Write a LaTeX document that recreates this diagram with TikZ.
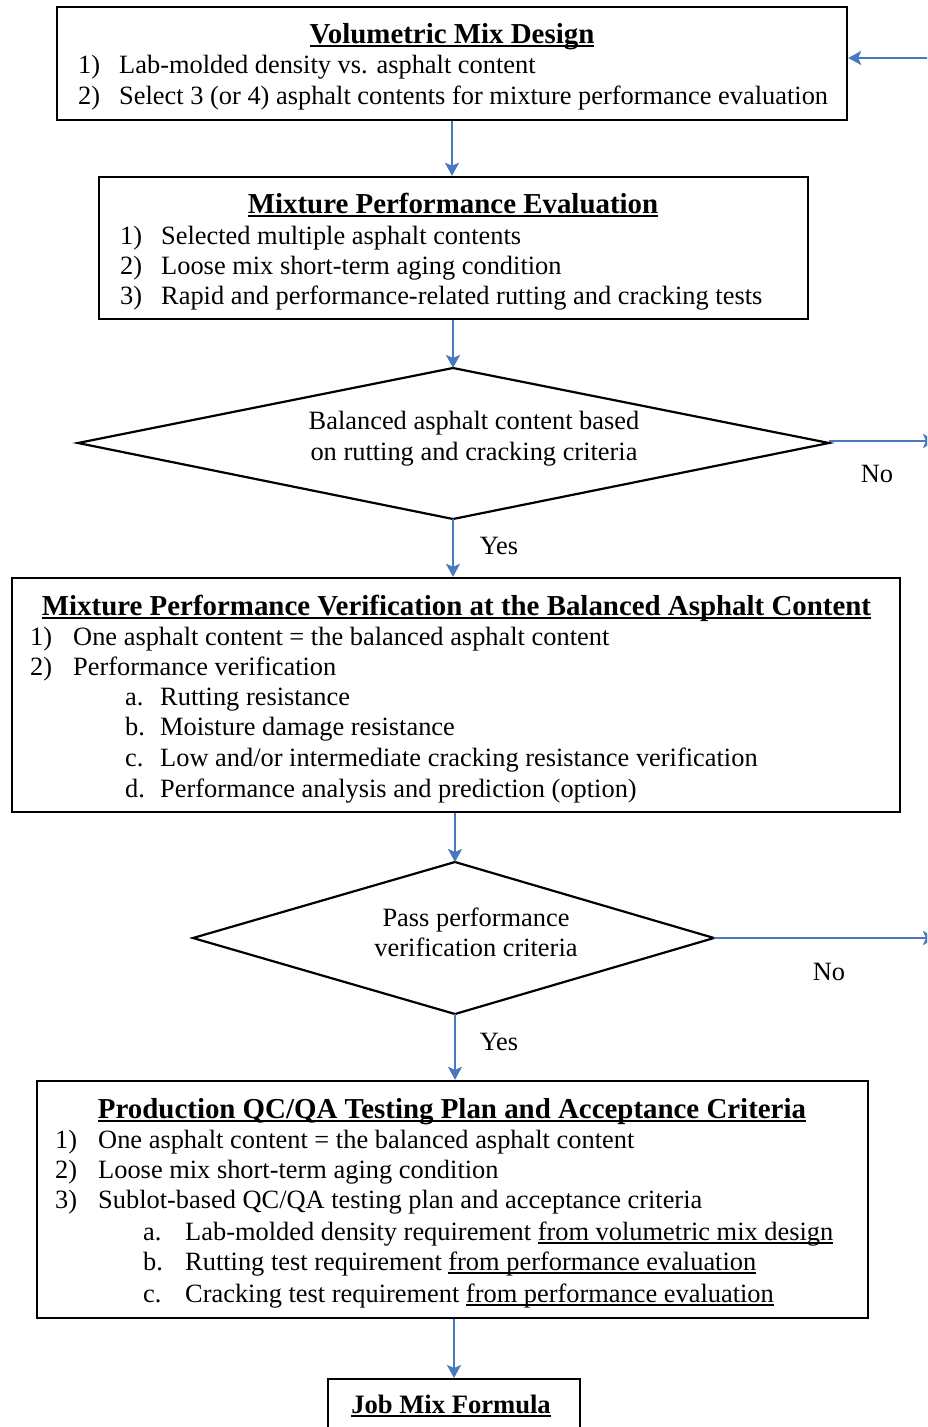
\documentclass[tikz,border=0pt]{standalone}
\usepackage{fontspec}
\setmainfont{Liberation Serif}
\usetikzlibrary{arrows.meta}
\definecolor{arrowblue}{RGB}{72,120,190}
\newcommand{\ulbold}[1]{\setbox0\hbox{#1}\rlap{\rule[-3.5pt]{\wd0}{2pt}}\box0}
\newcommand{\ulthin}[1]{\setbox0\hbox{#1}\rlap{\rule[-3.5pt]{\wd0}{1.3pt}}\box0}
\begin{document}
\begin{tikzpicture}[x=1pt,y=-1pt,
  box/.style={draw=black, line width=2.4pt, inner sep=0pt},
  dia/.style={draw=black, line width=2.2pt},
  txt/.style={inner sep=0pt, font=\fontsize{26.4}{30}\selectfont},
  ttl/.style={inner sep=0pt, font=\fontsize{28.9}{32}\selectfont\bfseries},
  lbl/.style={inner sep=0pt, font=\fontsize{26.4}{30}\selectfont},
  conn/.style={draw=arrowblue, line width=2.2pt, -{Stealth[length=13pt,width=14pt,inset=3pt]}}]
\clip (0,0) rectangle (927,1427);
\fill[white] (0,0) rectangle (927,1427);

% Box 1
\node[box, minimum width=790, minimum height=113] (b1) at (452,63.5) {};
\node[ttl, anchor=base] (b1t) at (452,43) {\ulbold{Volumetric Mix Design}};
\node[txt, anchor=base west] (b1n1) at (78,73) {1)};
\node[txt, anchor=base west] (b1l1) at (119,73) {Lab-molded density vs. asphalt content};
\node[txt, anchor=base west] (b1n2) at (78,104) {2)};
\node[txt, anchor=base west] (b1l2) at (119,104) {Select 3 (or 4) asphalt contents for mixture performance evaluation};

% Box 2
\node[box, minimum width=709, minimum height=142] (b2) at (453.5,248) {};
\node[ttl, anchor=base] (b2t) at (453,213) {\ulbold{Mixture Performance Evaluation}};
\node[txt, anchor=base west] (b2n1) at (120,244) {1)};
\node[txt, anchor=base west] (b2l1) at (161,244) {Selected multiple asphalt contents};
\node[txt, anchor=base west] (b2n2) at (120,274) {2)};
\node[txt, anchor=base west] (b2l2) at (161,274) {Loose mix short-term aging condition};
\node[txt, anchor=base west] (b2n3) at (120,304) {3)};
\node[txt, anchor=base west] (b2l3) at (161,304) {Rapid and performance-related rutting and cracking tests};

% Diamond 1
\coordinate (d1t) at (453,368);
\coordinate (d1r) at (829,443);
\coordinate (d1b) at (453,519);
\coordinate (d1l) at (78,443);
\draw[dia] (d1t) -- (d1r) -- (d1b) -- (d1l) -- cycle;
\node[txt, anchor=base] (d1a) at (474,429) {Balanced asphalt content based};
\node[txt, anchor=base] (d1c) at (474,460) {on rutting and cracking criteria};
\node[lbl] (no1) at (877,474) {No};
\node[lbl] (yes1) at (499,546) {Yes};

% Box 3
\node[box, minimum width=888, minimum height=234] (b3) at (456,695) {};
\node[ttl, anchor=base] (b3t) at (456.5,615) {\ulbold{Mixture Performance Verification at the Balanced Asphalt Content}};
\node[txt, anchor=base west] (b3n1) at (30,645) {1)};
\node[txt, anchor=base west] (b3l1) at (73,645) {One asphalt content = the balanced asphalt content};
\node[txt, anchor=base west] (b3n2) at (30,675) {2)};
\node[txt, anchor=base west] (b3l2) at (73,675) {Performance verification};
\node[txt, anchor=base west] (b3na) at (125,705) {a.};
\node[txt, anchor=base west] (b3la) at (160,705) {Rutting resistance};
\node[txt, anchor=base west] (b3nb) at (125,735) {b.};
\node[txt, anchor=base west] (b3lb) at (160,735) {Moisture damage resistance};
\node[txt, anchor=base west] (b3nc) at (125,766) {c.};
\node[txt, anchor=base west] (b3lc) at (160,766) {Low and/or intermediate cracking resistance verification};
\node[txt, anchor=base west] (b3nd) at (125,797) {d.};
\node[txt, anchor=base west] (b3ld) at (160,797) {Performance analysis and prediction (option)};

% Diamond 2
\coordinate (d2t) at (455,862);
\coordinate (d2r) at (714,938);
\coordinate (d2b) at (455,1014);
\coordinate (d2l) at (193,938);
\draw[dia] (d2t) -- (d2r) -- (d2b) -- (d2l) -- cycle;
\node[txt, anchor=base] (d2a) at (476,926) {Pass performance};
\node[txt, anchor=base] (d2c) at (476,956) {verification criteria};
\node[lbl] (no2) at (829,972) {No};
\node[lbl] (yes2) at (499,1042) {Yes};

% Box 4
\node[box, minimum width=831, minimum height=237] (b4) at (452.5,1199.5) {};
\node[ttl, anchor=base] (b4t) at (452,1118) {\ulbold{Production QC/QA Testing Plan and Acceptance Criteria}};
\node[txt, anchor=base west] (b4n1) at (55,1148) {1)};
\node[txt, anchor=base west] (b4l1) at (98,1148) {One asphalt content = the balanced asphalt content};
\node[txt, anchor=base west] (b4n2) at (55,1178) {2)};
\node[txt, anchor=base west] (b4l2) at (98,1178) {Loose mix short-term aging condition};
\node[txt, anchor=base west] (b4n3) at (55,1208) {3)};
\node[txt, anchor=base west] (b4l3) at (98,1208) {Sublot-based QC/QA testing plan and acceptance criteria};
\node[txt, anchor=base west] (b4na) at (143,1240) {a.};
\node[txt, anchor=base west] (b4la) at (185,1240) {Lab-molded density requirement \ulthin{from volumetric mix design}};
\node[txt, anchor=base west] (b4nb) at (143,1270) {b.};
\node[txt, anchor=base west] (b4lb) at (185,1270) {Rutting test requirement \ulthin{from performance evaluation}};
\node[txt, anchor=base west] (b4nc) at (143,1302) {c.};
\node[txt, anchor=base west] (b4lc) at (185,1302) {Cracking test requirement \ulthin{from performance evaluation}};

% Box 5
\node[box, minimum width=252, minimum height=80, anchor=north] (b5) at (454,1378) {};
\node[ttl, anchor=base, font=\fontsize{26.6}{30}\selectfont\bfseries] (b5t) at (451,1413) {\ulbold{Job Mix Formula}};

% Connectors
\coordinate (r0) at (930,58);
\coordinate (r1) at (936,441);
\coordinate (r2) at (936,938);
\draw[conn] (r0) -- (b1.east |- r0);
\draw[conn] (b1.south) -- (b1.south |- b2.north);
\draw[conn] (b2.south -| d1t) -- (d1t);
\draw[conn] (d1b) -- (d1b |- b3.north);
\draw[conn] (b3.south -| d2t) -- (d2t);
\draw[conn] (d2b) -- (d2b |- b4.north);
\draw[conn] (b4.south -| b5.north) -- (b5.north);
\draw[conn] (d1r |- r1) -- (r1);
\draw[conn] (d2r) -- (r2);
\end{tikzpicture}
\end{document}
